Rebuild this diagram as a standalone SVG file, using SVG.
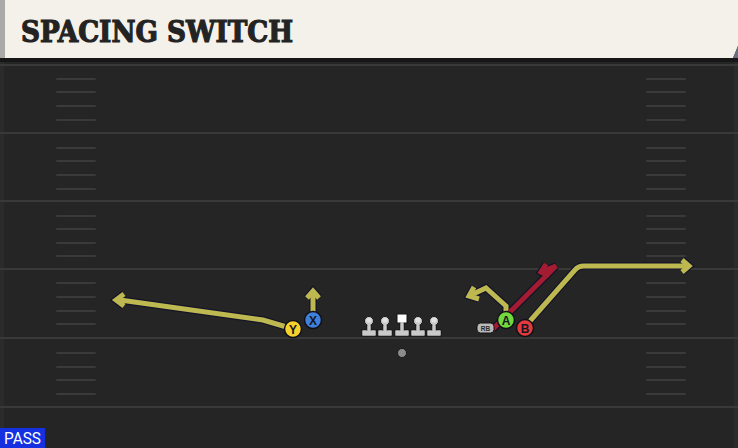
<svg xmlns="http://www.w3.org/2000/svg" xmlns:xlink="http://www.w3.org/1999/xlink" width="738" height="448" viewBox="0 0 738 448">
<defs>
<style>
.yard{stroke:#393939;stroke-width:2}
.hash{stroke:#3a3a3a;stroke-width:2;stroke-linecap:round}
.ro{fill:none;stroke:#14142a;stroke-width:7.5;stroke-linejoin:miter;stroke-linecap:butt}
.ry{fill:none;stroke:#bdb84f;stroke-width:5;stroke-linejoin:miter;stroke-linecap:butt}
.rr{fill:none;stroke:#a41c31;stroke-width:5;stroke-linejoin:miter;stroke-linecap:butt}
.pc{stroke:#101018;stroke-width:1.5}
.pl{font-family:"Liberation Sans","DejaVu Sans",sans-serif;font-weight:bold;font-size:12px;fill:#15151f;text-anchor:middle}
.ol{fill:#c9c9c9;stroke:#141414;stroke-width:1}
</style>
<g id="lineman">
<rect x="-7" y="9" width="14" height="6" class="ol"/>
<rect x="-2" y="0" width="4" height="10" class="ol"/>
<circle cx="0" cy="0" r="4.5" class="ol"/>
<rect x="-6.5" y="9.5" width="13" height="5" fill="#c9c9c9"/>
<rect x="-1.5" y="1" width="3" height="9" fill="#c9c9c9"/>
<circle cx="0" cy="-1" r="2.6" fill="#e2e2e2"/>
</g>
</defs>
<rect width="738" height="448" fill="#252525"/>
<g id="field">
<rect x="0" y="60" width="4" height="388" fill="#2b2b2b"/>
<rect x="734" y="60" width="4" height="388" fill="#2b2b2b"/>
<line class="yard" x1="0" y1="65" x2="738" y2="65"/>
<line class="yard" x1="0" y1="133" x2="738" y2="133"/>
<line class="yard" x1="0" y1="201" x2="738" y2="201"/>
<line class="yard" x1="0" y1="269" x2="738" y2="269"/>
<line class="yard" x1="0" y1="338" x2="738" y2="338"/>
<line class="yard" x1="0" y1="407" x2="738" y2="407"/>
<g class="hash">
<path d="M57 79H95M57 92H95M57 106H95M57 120H95M57 148H95M57 161H95M57 175H95M57 189H95M57 216H95M57 229H95M57 243H95M57 256H95M57 283H95M57 297H95M57 311H95M57 324H95M57 353H95M57 367H95M57 380H95M57 394H95"/>
<path d="M647 79H685M647 92H685M647 106H685M647 120H685M647 148H685M647 161H685M647 175H685M647 189H685M647 216H685M647 229H685M647 243H685M647 256H685M647 283H685M647 297H685M647 311H685M647 324H685M647 353H685M647 367H685M647 380H685M647 394H685"/>
</g>
</g>
<g id="header">
<rect x="0" y="57" width="738" height="5" fill="#161616"/>
<path d="M4 0H738V46L733 58H4Z" fill="#f4f1ea"/>
<path d="M733 58L738 46V58Z" fill="#6a6f80"/>
<rect x="0" y="0" width="5" height="58" fill="#a9aaa8"/>
<text x="21" y="42" font-family="'DejaVu Serif','Liberation Serif',serif" font-weight="bold" font-size="29" fill="#232323" stroke="#232323" stroke-width="1.2" textLength="272" lengthAdjust="spacingAndGlyphs">SPACING SWITCH</text>
</g>
<g id="connectors">
<g class="ro">
<path d="M290 328L263 320L120 300"/>
<path d="M124 294L116 300L124 306"/>
<path d="M313 313V292"/>
<path d="M307 298L313 291L319 298"/>
<path d="M506 312V306L486 288L471 295"/>
<path d="M479 299L469 296L474 287"/>
<path d="M530 321L575 270Q578 266 584 266H686"/>
<path d="M682 260L689 266L682 272"/>
<path d="M493 329L556 266L543 271"/>
<path d="M549 276L541 272L546 264"/>
</g>
<g class="ry">
<path d="M290 328L263 320L120 300"/>
<path d="M124 294L116 300L124 306"/>
<path d="M313 313V292"/>
<path d="M307 298L313 291L319 298"/>
<path d="M506 312V306L486 288L471 295"/>
<path d="M479 299L469 296L474 287"/>
<path d="M530 321L575 270Q578 266 584 266H686"/>
<path d="M682 260L689 266L682 272"/>
</g>
<g class="rr">
<path d="M493 329L556 266L543 271"/>
<path d="M549 276L541 272L546 264"/>
</g>
</g>
<g id="line">
<use xlink:href="#lineman" x="369" y="321"/>
<use xlink:href="#lineman" x="385" y="321"/>
<use xlink:href="#lineman" x="418" y="321"/>
<use xlink:href="#lineman" x="434" y="321"/>
<g id="center">
<rect x="395" y="330" width="14" height="6" class="ol"/>
<rect x="400" y="320" width="4" height="11" class="ol"/>
<rect x="397" y="314" width="10" height="9" fill="#ffffff" stroke="#141414" stroke-width="1"/>
<rect x="395.5" y="330.5" width="13" height="5" fill="#c9c9c9"/>
<rect x="400.5" y="322" width="3" height="9" fill="#c9c9c9"/>
</g>
</g>
<g id="qb"><circle cx="402" cy="353" r="4.5" fill="#8c8c8c" stroke="#1a1a1a" stroke-width="1"/></g>
<g id="rb">
<rect x="477" y="323" width="17" height="10" rx="3.5" fill="#b9b9b9" stroke="#121212" stroke-width="1"/>
<text x="485.5" y="331" font-family="'Liberation Sans','DejaVu Sans',sans-serif" font-weight="bold" font-size="6.5" fill="#2a2a2a" text-anchor="middle">RB</text>
</g>
<g id="Y"><circle cx="293" cy="329" r="8.5" fill="#f4d12c" class="pc"/><text x="293" y="333.5" class="pl">Y</text></g>
<g id="X"><circle cx="313" cy="320" r="8.5" fill="#3f80da" class="pc"/><text x="313" y="324.5" class="pl">X</text></g>
<g id="A"><circle cx="506" cy="320" r="8.5" fill="#72d83c" class="pc"/><text x="506" y="324.5" class="pl">A</text></g>
<g id="B"><circle cx="525" cy="328" r="8.5" fill="#e23a3d" class="pc"/><text x="525" y="332.5" class="pl">B</text></g>
<g id="pass">
<rect x="0" y="428" width="45" height="20" fill="#1430e0"/>
<text x="22.5" y="444" font-family="'Roboto','Liberation Sans',sans-serif" font-size="16" fill="#ffffff" text-anchor="middle" textLength="37" lengthAdjust="spacingAndGlyphs">PASS</text>
</g>
</svg>
